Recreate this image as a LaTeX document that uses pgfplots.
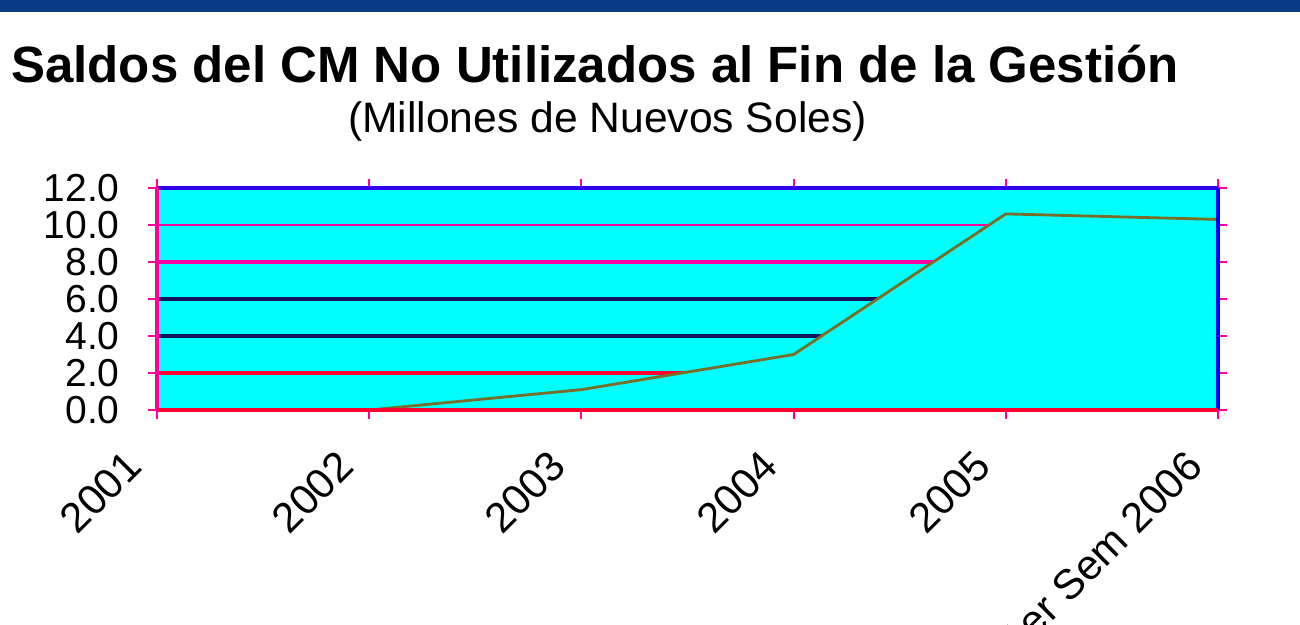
\documentclass[border=0pt]{standalone}
\usepackage{pgfplots}
\pgfplotsset{compat=1.18}
\usepackage{fontspec}
\setmainfont{Liberation Sans}
\definecolor{band}{RGB}{10,60,135}
\definecolor{plotbg}{RGB}{0,255,255}
\definecolor{gmag}{RGB}{255,0,160}
\definecolor{gnavy}{RGB}{20,20,90}
\definecolor{lineol}{RGB}{120,110,40}
\begin{document}
\begin{tikzpicture}[x=1pt,y=1pt]
\useasboundingbox (0,0) rectangle (650,312.5);
\fill[band] (0,306.5) rectangle (650,312.5);
\node[anchor=base, inner sep=0pt, font=\fontsize{25.5}{30}\selectfont\bfseries] at (297.5,271) {Saldos del CM No Utilizados al Fin de la Gestión};
\node[anchor=base, inner sep=0pt, font=\fontsize{21.3}{24}\selectfont] at (303.75,246) {(Millones de Nuevos Soles)};
\begin{axis}[
  at={(78.5pt,107.5pt)}, anchor=south west,
  scale only axis, width=530.5pt, height=111pt,
  xmin=0, xmax=5, ymin=0, ymax=12,
  xtick={0,1,2,3,4,5},
  xticklabels={2001,2002,2003,2004,2005,1er Sem 2006},
  ytick={0,2,4,6,8,10,12},
  yticklabels={0.0,2.0,4.0,6.0,8.0,10.0,12.0},
  tick align=outside, major tick length=4.5pt,
  tick style={gmag, line width=1pt},
  axis background/.style={fill=plotbg},
  axis line style={draw=none},
  yticklabel style={font=\fontsize{19.5}{20}\selectfont, anchor=east, inner sep=1pt, xshift=-13pt},
  xticklabel style={font=\fontsize{21}{22}\selectfont, xshift=-17pt, rotate=45, anchor=north east, inner sep=1pt},
  xticklabel shift=13pt,
  clip=false,
]
\draw[gmag, line width=1.2pt] (axis cs:0,10) -- (axis cs:5,10);
\draw[gmag, line width=2.2pt] (axis cs:0,8) -- (axis cs:5,8);
\draw[gnavy, line width=2.2pt] (axis cs:0,6) -- (axis cs:5,6);
\draw[gnavy, line width=2.2pt] (axis cs:0,4) -- (axis cs:5,4);
\draw[red!70!gmag, line width=2.2pt] (axis cs:0,2) -- (axis cs:5,2);
\addplot[fill=plotbg, draw=none] coordinates {(0,0) (1,0) (2,1.1) (3,3.0) (4,10.6) (5,10.3)} \closedcycle;
\addplot[lineol, line width=1.4pt] coordinates {(0,0) (1,0) (2,1.1) (3,3.0) (4,10.6) (5,10.3)};
\draw[blue!80!gmag, line width=1.6pt] (rel axis cs:0,1) -- (rel axis cs:1,1);
\draw[blue, line width=1.6pt] (rel axis cs:1,0) -- (rel axis cs:1,1);
\draw[gmag, line width=1.6pt] (rel axis cs:0,0) -- (rel axis cs:0,1);
\draw[red!70!gmag, line width=2pt] (rel axis cs:0,0) -- (rel axis cs:1,0);
\end{axis}
\end{tikzpicture}
\end{document}
